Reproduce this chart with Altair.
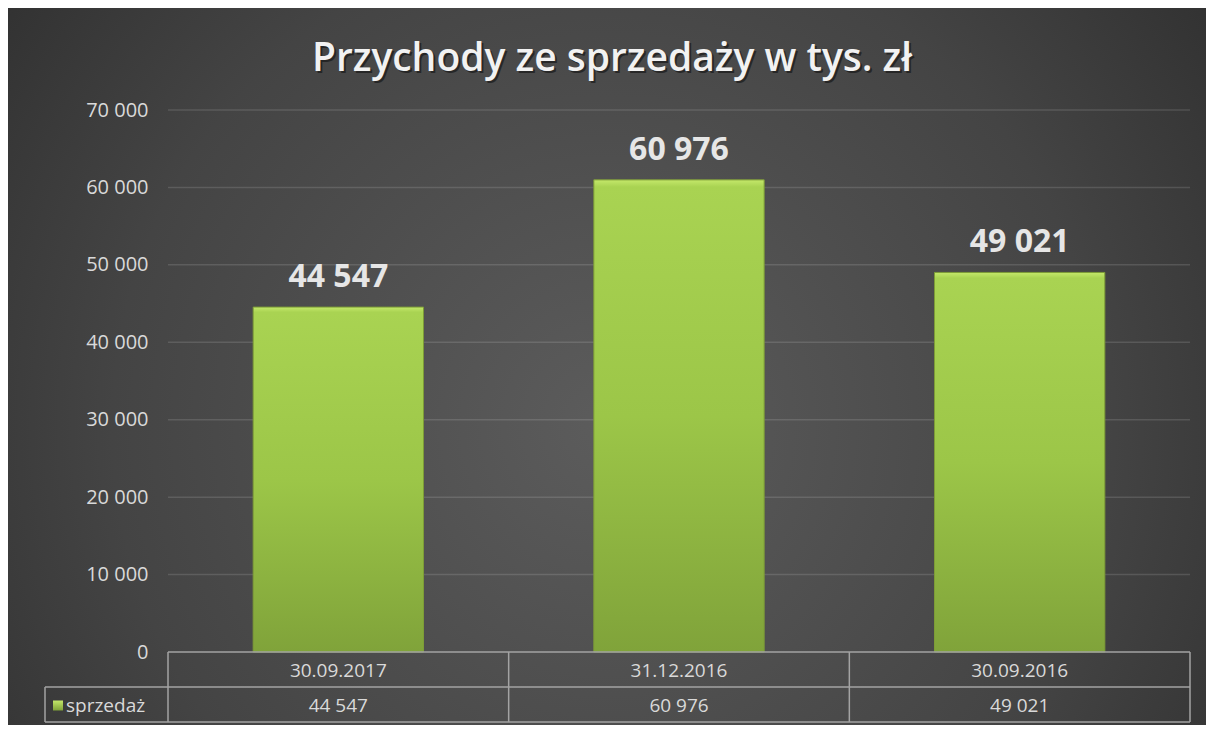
import altair as alt
import pandas as pd

# ---- data ----
categories = ["30.09.2017", "31.12.2016", "30.09.2016"]
values = [44547, 60976, 49021]
series_name = "sprzedaż"
y_ticks = [0, 10000, 20000, 30000, 40000, 50000, 60000, 70000]
title_text = "Przychody ze sprzedaży w tys. zł"

# ---- layout ----
W, H, ROW = 1022, 542, 35
PAD_L, PAD_T, PAD_R, PAD_B = 160, 102, 16, 73
LEG_X = -123
FONT = "Open Sans"
TXT = "#d9d9d9"
LINE = "#a3a3a3"

fmt = "replace(format(datum.{f}, ','), ',', ' ')"

df = pd.DataFrame({"kategoria": categories, "wartosc": values})
ticks_df = pd.DataFrame({"tick": y_ticks[1:]})
one = pd.DataFrame({"k": [0]})

xs = alt.Scale(type="band", paddingInner=0, paddingOuter=0, domain=categories)
ys = alt.Scale(domain=[y_ticks[0], y_ticks[-1]], nice=False, zero=True)
yaxis = alt.Axis(
    values=y_ticks, grid=False, ticks=False, domain=False, title=None, zindex=1,
    labelExpr="replace(format(datum.value, ','), ',', ' ')",
    labelFont=FONT, labelFontSize=20, labelColor=TXT, labelPadding=20,
)

bg = alt.Chart(one).mark_rect(
    color=alt.RadialGradient(
        gradient="radial",
        x1=0.5, y1=0.55, r1=0.0,
        x2=0.5, y2=0.55, r2=0.75,
        stops=[
            alt.GradientStop(offset=0, color="#5c5c5c"),
            alt.GradientStop(offset=0.55, color="#444444"),
            alt.GradientStop(offset=1, color="#262626"),
        ],
    )
).encode(
    x=alt.value(-PAD_L), x2=alt.value(W + PAD_R),
    y=alt.value(-PAD_T), y2=alt.value(H + PAD_B),
)

grid = alt.Chart(ticks_df).mark_rule(color="#ffffff", opacity=0.13, strokeWidth=1.5).encode(
    y=alt.Y("tick:Q", scale=ys, axis=yaxis),
    x=alt.value(0), x2=alt.value(W),
)

bar_grad = alt.LinearGradient(
    gradient="linear", x1=0, y1=0, x2=0, y2=1,
    stops=[
        alt.GradientStop(offset=0, color="#c4e86a"),
        alt.GradientStop(offset=0.015, color="#a9d352"),
        alt.GradientStop(offset=0.5, color="#9cc648"),
        alt.GradientStop(offset=1, color="#80a33a"),
    ],
)

bars = alt.Chart(df).mark_bar(
    color=bar_grad, width=alt.RelativeBandSize(0.5), stroke="#7d9c37", strokeWidth=1
).encode(
    x=alt.X("kategoria:N", scale=xs, axis=None, sort=None),
    y=alt.Y("wartosc:Q", scale=ys, axis=yaxis),
)

labels = alt.Chart(df).transform_calculate(
    lab=fmt.format(f="wartosc")
).mark_text(
    font=FONT, fontSize=32, fontWeight="bold", color="#e6e6e6", baseline="alphabetic", dy=-20
).encode(
    x=alt.X("kategoria:N", scale=xs, axis=None, sort=None),
    y=alt.Y("wartosc:Q", scale=ys, axis=yaxis),
    text="lab:N",
)

# chart title drawn as text (with a soft shadow copy behind it)
title_df = pd.DataFrame({"t": [title_text]})
title_shadow = alt.Chart(title_df).mark_text(
    font=FONT, fontSize=39, fontWeight=600, color="#111111", opacity=0.6,
    align="center", baseline="alphabetic",
).encode(x=alt.value(W / 2 - 67 + 2), y=alt.value(-39 + 2), text="t:N")
title_mark = alt.Chart(title_df).mark_text(
    font=FONT, fontSize=39, fontWeight=600, color="#f2f2f2",
    align="center", baseline="alphabetic",
).encode(x=alt.value(W / 2 - 67), y=alt.value(-39), text="t:N")

# table: horizontal lines and outer verticals
hl = alt.Chart(one).mark_rule(color=LINE, strokeWidth=1.5)
h_lines = alt.layer(
    hl.encode(x=alt.value(0), x2=alt.value(W), y=alt.value(H)),
    hl.encode(x=alt.value(LEG_X), x2=alt.value(W), y=alt.value(H + ROW)),
    hl.encode(x=alt.value(LEG_X), x2=alt.value(W), y=alt.value(H + 2 * ROW)),
    hl.encode(x=alt.value(W), y=alt.value(H), y2=alt.value(H + 2 * ROW)),
    hl.encode(x=alt.value(LEG_X), y=alt.value(H + ROW), y2=alt.value(H + 2 * ROW)),
)

v_lines = alt.Chart(df).mark_rule(color=LINE, strokeWidth=1.5).encode(
    x=alt.X("kategoria:N", scale=xs, axis=None, sort=None, bandPosition=0),
    y=alt.value(H), y2=alt.value(H + 2 * ROW),
)

cat_text = alt.Chart(df).mark_text(
    font=FONT, fontSize=19, color=TXT, baseline="middle"
).encode(
    x=alt.X("kategoria:N", scale=xs, axis=None, sort=None),
    y=alt.value(H + ROW / 2 + 1),
    text="kategoria:N",
)

val_text = alt.Chart(df).transform_calculate(
    lab=fmt.format(f="wartosc")
).mark_text(
    font=FONT, fontSize=19, color=TXT, baseline="middle"
).encode(
    x=alt.X("kategoria:N", scale=xs, axis=None, sort=None),
    y=alt.value(H + ROW * 1.5 + 1),
    text="lab:N",
)

leg_mark = alt.Chart(one).mark_rect(
    color=alt.LinearGradient(
        gradient="linear", x1=0, y1=0, x2=0, y2=1,
        stops=[alt.GradientStop(offset=0, color="#c4e86a"),
               alt.GradientStop(offset=1, color="#7fa238")],
    )
).encode(
    x=alt.value(LEG_X + 8), x2=alt.value(LEG_X + 18),
    y=alt.value(H + ROW * 1.5 - 4), y2=alt.value(H + ROW * 1.5 + 6),
)

leg_text = alt.Chart(pd.DataFrame({"s": [series_name]})).mark_text(
    font=FONT, fontSize=19, color=TXT, align="left", baseline="middle"
).encode(
    x=alt.value(LEG_X + 21), y=alt.value(H + ROW * 1.5 + 1), text="s:N",
)

chart = alt.layer(
    bg, grid, bars, labels, title_shadow, title_mark,
    h_lines, v_lines, cat_text, val_text, leg_mark, leg_text
).properties(
    width=W, height=H,
    background="#262626",
    padding={"left": PAD_L, "top": PAD_T, "right": PAD_R, "bottom": PAD_B},
    autosize=alt.AutoSizeParams(type="none"),
).configure_view(stroke=None)

chart.save("out.html", embed_options={"renderer": "svg", "actions": False})
